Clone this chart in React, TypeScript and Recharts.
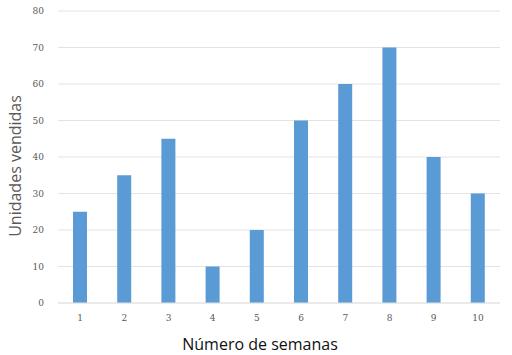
import { Bar, BarChart, CartesianGrid, Label, XAxis, YAxis } from "recharts";

const weeks = ["1", "2", "3", "4", "5", "6", "7", "8", "9", "10"];
const unitsSold = [25, 35, 45, 10, 20, 50, 60, 70, 40, 30];
const yTicks = [0, 10, 20, 30, 40, 50, 60, 70, 80];

const data = weeks.map((week, i) => ({ week, units: unitsSold[i] }));

const tickStyle = { fill: "#595959", fontSize: 9, fontFamily: "'DejaVu Serif', serif" };

export default function App() {
  return (
    <div style={{ position: "absolute", left: 0, top: 0, width: 512, height: 355, background: "#fff" }}>
      <BarChart
        width={512}
        height={355}
        data={data}
        margin={{ top: 11, right: 12, left: 0, bottom: 30 }}
      >
        <CartesianGrid vertical={false} stroke="#e3e3e3" />
        <XAxis
          dataKey="week"
          height={22}
          axisLine={{ stroke: "#e3e3e3" }}
          tickLine={false}
          tick={tickStyle}
          tickMargin={6}
        >
          <Label
            value="Número de semanas"
            position="bottom"
            offset={14}
            dx={-19}
            style={{ fill: "#111", fontSize: 16, fontFamily: "'Open Sans', sans-serif" }}
          />
        </XAxis>
        <YAxis
          width={58}
          domain={[0, 80]}
          ticks={yTicks}
          axisLine={false}
          tickLine={false}
          tick={tickStyle}
          tickMargin={8}
        >
          <Label
            value="Unidades vendidas"
            angle={-90}
            position="center"
            dx={-14}
            dy={9}
            style={{ fill: "#595959", fontSize: 16, fontFamily: "'Open Sans', sans-serif", textAnchor: "middle" }}
          />
        </YAxis>
        <Bar dataKey="units" fill="#5b9bd5" barSize={14} isAnimationActive={false} />
      </BarChart>
    </div>
  );
}
